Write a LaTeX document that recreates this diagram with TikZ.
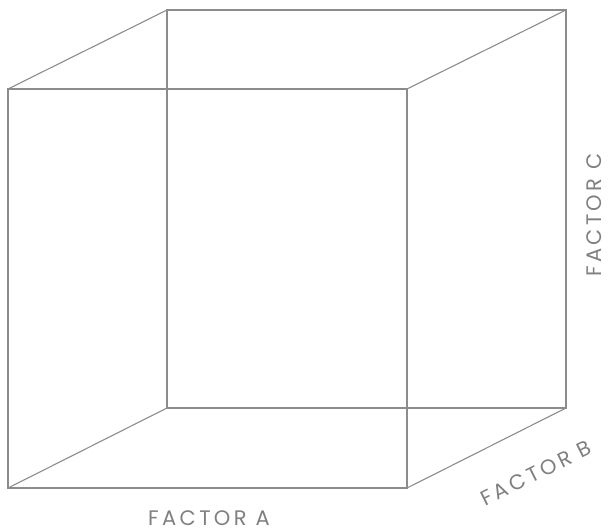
\documentclass[tikz,border=0pt]{standalone}
\usepackage{fontspec}
\setmainfont{Poppins}[LetterSpace=16]
\begin{document}
\begin{tikzpicture}[x=1pt,y=-1pt,
  edge/.style={draw=black!45,line width=1.1pt},
  lbl/.style={text=black!50,font=\fontsize{21}{23}\selectfont,inner sep=0pt}]
\useasboundingbox (0,0) rectangle (608,530);
% front face
\coordinate (ftl) at (8,89);
\coordinate (ftr) at (407,89);
\coordinate (fbl) at (8,488);
\coordinate (fbr) at (407,488);
% back face
\coordinate (btl) at (167,10);
\coordinate (btr) at (566,10);
\coordinate (bbl) at (167,408);
\coordinate (bbr) at (566,408);
\draw[edge] (ftl) -- (ftr) -- (fbr) -- (fbl) -- cycle;
\draw[edge] (btl) -- (btr) -- (bbr) -- (bbl) -- cycle;
\draw[edge] (ftl) -- (btl);
\draw[edge] (ftr) -- (btr);
\draw[edge] (fbl) -- (bbl);
\draw[edge] (fbr) -- (bbr);
\node[lbl] (fa) at (209,518) {FACTOR A};
\node[lbl,rotate=26.5] (fb) at (536,473) {FACTOR B};
\node[lbl,rotate=90] (fc) at (594,215) {FACTOR C};
\end{tikzpicture}
\end{document}
